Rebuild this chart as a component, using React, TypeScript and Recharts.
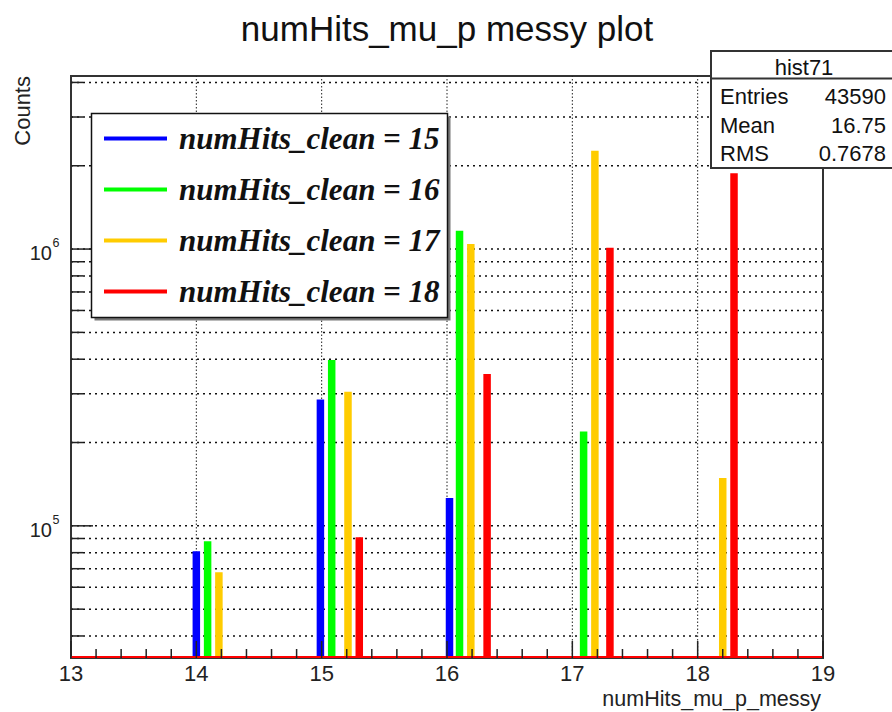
import {
  ComposedChart,
  CartesianGrid,
  Line,
  ReferenceArea,
  ReferenceLine,
  XAxis,
  YAxis,
} from "recharts";

// ROOT-style log histogram: four "clean" hit-count selections drawn as thin spikes.

const SANS = "'Liberation Sans', Arial, sans-serif";
const SERIF = "'Liberation Serif', 'Times New Roman', serif";

const YMIN = 33300;
const YMAX = 4220000;

const seriesNames = [
  "numHits_clean = 15",
  "numHits_clean = 16",
  "numHits_clean = 17",
  "numHits_clean = 18",
];
const seriesColors = ["#0000ff", "#00ff00", "#ffcc00", "#ff0000"];

const blueX = [14.0, 14.99, 16.02];
const blueCounts = [81000, 286000, 126000];
const greenX = [14.09, 15.08, 16.1, 17.09];
const greenCounts = [88000, 397000, 1165000, 219000];
const yellowX = [14.18, 15.21, 16.19, 17.18, 18.2];
const yellowCounts = [67900, 305000, 1042000, 2266000, 149000];
const redX = [15.3, 16.32, 17.3, 18.29];
const redCounts = [91000, 354000, 1011000, 1878000];
// empty bins of the last histogram sit on the lower edge
const baseX = [13, 19];

const xTicks = [
  13, 13.2, 13.4, 13.6, 13.8, 14, 14.2, 14.4, 14.6, 14.8, 15, 15.2, 15.4, 15.6,
  15.8, 16, 16.2, 16.4, 16.6, 16.8, 17, 17.2, 17.4, 17.6, 17.8, 18, 18.2, 18.4,
  18.6, 18.8, 19,
];
const xGrid = [14, 15, 16, 17, 18];
const yTicks = [
  40000, 50000, 60000, 70000, 80000, 90000, 100000, 200000, 300000, 400000,
  500000, 600000, 700000, 800000, 900000, 1000000, 2000000, 3000000, 4000000,
];

const stats = [
  ["Entries", "43590"],
  ["Mean", "16.75"],
  ["RMS", "0.7678"],
];

/** One vertical segment per bin, split by nulls so the line breaks between them. */
function spikes(xs: number[], counts: number[]) {
  const out: { x: number; y: number | null }[] = [];
  xs.forEach((x, i) => {
    out.push({ x, y: YMIN }, { x, y: counts[i] }, { x, y: null });
  });
  return out;
}

const series = [
  spikes(blueX, blueCounts),
  spikes(greenX, greenCounts),
  spikes(yellowX, yellowCounts),
  spikes(redX, redCounts),
];
const baseline = baseX.map((x) => ({ x, y: YMIN }));

function XTick({ x, y, payload }: any) {
  const major = Number.isInteger(payload.value);
  return (
    <g>
      <line x1={x} x2={x} y1={y} y2={y - (major ? 17 : 9)} stroke="#222" strokeWidth={1.5} />
      {major && (
        <text x={x} y={y + 22.5} textAnchor="middle" fontSize={22} fontFamily={SANS} fill="#222">
          {payload.value}
        </text>
      )}
    </g>
  );
}

function YTick({ x, y, payload }: any) {
  const exp = Math.log10(payload.value);
  const major = Math.abs(exp - Math.round(exp)) < 1e-9;
  return (
    <g>
      <line x1={x} x2={x + (major ? 22 : 12)} y1={y} y2={y} stroke="#222" strokeWidth={1.5} />
      {major && (
        <g fontFamily={SANS} fill="#222">
          <text x={x - 19} y={y + 11} textAnchor="end" fontSize={20}>
            10
          </text>
          <text x={x - 18.5} y={y - 2} fontSize={12.5}>
            {Math.round(exp)}
          </text>
        </g>
      )}
    </g>
  );
}

export default function App() {
  return (
    <div style={{ position: "absolute", left: 0, top: 0, width: 892, height: 712, background: "#fff" }}>
      <ComposedChart width={892} height={712} margin={{ top: 76, right: 69, bottom: 0, left: 0 }}>
        <CartesianGrid
          vertical={false}
          stroke="#111"
          strokeDasharray="2 4"
          strokeWidth={1.5}
        />
        {xGrid.map((g) => (
          <ReferenceLine key={g} x={g} stroke="#222" strokeDasharray="1.5 2" strokeWidth={1} />
        ))}
        <XAxis
          dataKey="x"
          type="number"
          domain={[13, 19]}
          allowDataOverflow
          ticks={xTicks}
          interval={0}
          height={54}
          axisLine={false}
          tickLine={false}
          tickSize={0}
          tickMargin={0}
          tick={<XTick />}
          label={{
            content: ({ viewBox }: any) => (
              <text
                x={viewBox.x + viewBox.width - 2}
                y={viewBox.y + 47.5}
                textAnchor="end"
                fontSize={21.5}
                fontFamily={SANS}
                fill="#222"
              >
                numHits_mu_p_messy
              </text>
            ),
          }}
        />
        <YAxis
          type="number"
          scale="log"
          domain={[YMIN, YMAX]}
          allowDataOverflow
          ticks={yTicks}
          interval={0}
          width={71}
          axisLine={false}
          tickLine={false}
          tickSize={0}
          tickMargin={0}
          tick={<YTick />}
          label={{
            content: ({ viewBox }: any) => (
              <text
                x={30}
                y={viewBox.y}
                transform={`rotate(-90, 30, ${viewBox.y})`}
                textAnchor="end"
                fontSize={22}
                fontFamily={SANS}
                fill="#222"
              >
                Counts
              </text>
            ),
          }}
        />
        <ReferenceArea
          x1={13}
          x2={19}
          y1={YMIN}
          y2={YMAX}
          fill="none"
          stroke="#333"
          strokeWidth={2}
          ifOverflow="visible"
        />
        {series.map((d, i) => (
          <Line
            key={seriesNames[i]}
            data={d}
            dataKey="y"
            name={seriesNames[i]}
            stroke={seriesColors[i]}
            strokeWidth={7.5}
            strokeLinecap="butt"
            dot={false}
            activeDot={false}
            connectNulls={false}
            isAnimationActive={false}
          />
        ))}
        <Line
          data={baseline}
          dataKey="y"
          stroke={seriesColors[3]}
          strokeWidth={4}
          dot={false}
          activeDot={false}
          legendType="none"
          isAnimationActive={false}
        />
      </ComposedChart>

      <svg
        width={892}
        height={712}
        style={{ position: "absolute", left: 0, top: 0, pointerEvents: "none" }}
      >
        <text x={447} y={41} textAnchor="middle" fontSize={35} fontFamily={SANS} fill="#111">
          numHits_mu_p messy plot
        </text>

        {/* legend */}
        <rect x={94.5} y={116.5} width={356} height={204} fill="#777" />
        <rect x={91.5} y={113.5} width={356} height={204} fill="#fff" stroke="#111" strokeWidth={1.5} />
        {seriesNames.map((name, i) => {
          const cy = 138.5 + i * 51;
          return (
            <g key={name}>
              <line x1={104} x2={167} y1={cy} y2={cy} stroke={seriesColors[i]} strokeWidth={4} />
              <text
                x={179}
                y={cy + 10.5}
                fontSize={31}
                fontFamily={SERIF}
                fontStyle="italic"
                fontWeight="bold"
                fill="#111"
              >
                {name}
              </text>
            </g>
          );
        })}

        {/* stats box */}
        <rect x={711} y={51} width={190} height={117} fill="#fff" stroke="#333" strokeWidth={2} />
        <line x1={711} x2={892} y1={78.5} y2={78.5} stroke="#333" strokeWidth={2} />
        <text x={804} y={75} textAnchor="middle" fontSize={22} fontFamily={SANS} fill="#111">
          hist71
        </text>
        {stats.map(([k, v], i) => (
          <g key={k} fontSize={22} fontFamily={SANS} fill="#111">
            <text x={720} y={104 + i * 28.5}>
              {k}
            </text>
            <text x={886} y={104 + i * 28.5} textAnchor="end">
              {v}
            </text>
          </g>
        ))}
      </svg>
    </div>
  );
}
